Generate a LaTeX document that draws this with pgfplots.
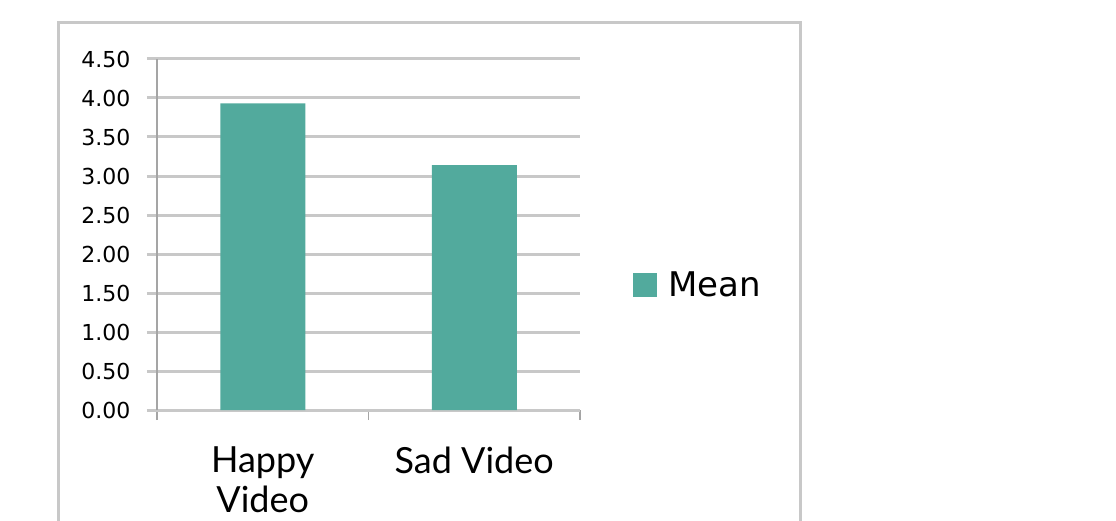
\documentclass[border=0pt]{standalone}
\usepackage{pgfplots}
\pgfplotsset{compat=1.18}
\usepackage{fontspec}
\setmainfont{DejaVu Sans}
\newfontfamily\catfont{Lato}
\definecolor{barcol}{RGB}{82,170,157}
\definecolor{gridcol}{RGB}{200,200,200}
\definecolor{axcol}{RGB}{165,165,165}
\begin{document}
\begin{tikzpicture}
\path[use as bounding box] (0,0) rectangle (1116pt,520pt);
\clip (0,0) rectangle (1116pt,520pt);
\draw[gridcol, line width=3pt] (58pt,-20pt) rectangle (800pt,497pt);
\begin{axis}[
  at={(157pt,110pt)}, anchor=south west,
  scale only axis, width=423pt, height=351pt,
  xmin=0.5, xmax=2.5, ymin=0, ymax=4.5,
  ybar, bar width=85pt, bar shift=0pt,
  axis lines=left, axis line style={-},
  x axis line style={gridcol, line width=3pt},
  y axis line style={axcol, line width=1.5pt},
  xtick={0.5,1.5,2.5}, xticklabels={},
  x tick style={axcol, line width=1.5pt},
  extra x ticks={1,2},
  extra x tick labels={{Happy\\[2pt]Video},{Sad Video}},
  extra x tick style={major tick length=0pt, xticklabel style={font=\catfont\fontsize{36}{38}\selectfont, align=center, anchor=north, yshift=-33pt}},
  ytick={0,0.5,...,4.5},
  yticklabel style={/pgf/number format/fixed, /pgf/number format/fixed zerofill, /pgf/number format/precision=2, font=\fontsize{22}{24}\selectfont, xshift=-13pt},
  /pgf/number format/assume math mode=true,
  tick align=outside, major tick length=10pt,
  y tick style={gridcol, line width=3pt},
  ymajorgrids, grid style={gridcol, line width=3pt},
  legend style={at={(rel axis cs:1.118,0.356)}, anchor=west, draw=none, fill=none,
    font=\fontsize{34}{36}\selectfont, legend cell align=left},
  legend image code/.code={\fill[barcol] (0pt,-12pt) rectangle (24pt,12pt);},
]
\addplot[fill=barcol, draw=none] coordinates {(1,3.93) (2,3.14)};
\addlegendentry{\hspace{9pt}Mean}
\end{axis}
\end{tikzpicture}
\end{document}
